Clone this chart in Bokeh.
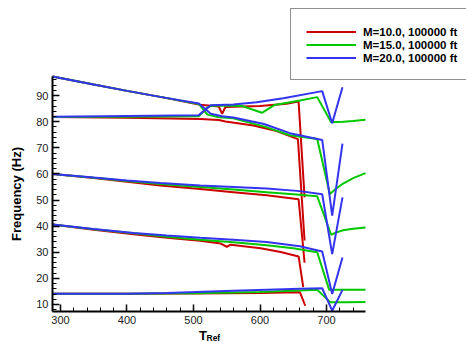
from bokeh.plotting import figure
from bokeh.models import Range1d, SingleIntervalTicker, Legend, LegendItem, Label
from bokeh.embed import file_html
from bokeh.resources import INLINE

# ---- data ----
series_labels = ["M=10.0, 100000 ft", "M=15.0, 100000 ft", "M=20.0, 100000 ft"]
series_colors = ["#cc0000", "#00c800", "#3434f0"]

# M=10
r1_t = [288, 350, 400, 450, 510, 538, 543, 548, 600, 640, 658, 667]
r1_f = [97.3, 94.2, 91.8, 89.5, 86.5, 85.8, 83.0, 85.6, 86.0, 86.9, 87.7, 51.0]
r2_t = [288, 400, 510, 538, 548, 590, 625, 657, 667]
r2_f = [81.8, 81.5, 81.0, 80.6, 80.1, 78.5, 76.4, 73.3, 34.5]
r3_t = [288, 350, 400, 450, 510, 560, 610, 658, 667]
r3_f = [60.0, 58.4, 57.0, 55.6, 54.2, 53.0, 51.8, 50.3, 26.0]
r4_t = [288, 350, 410, 460, 510, 541, 550, 556, 601, 631, 658, 665]
r4_f = [40.6, 38.6, 36.9, 35.5, 34.4, 33.3, 32.1, 32.9, 31.5, 30.1, 28.4, 16.6]
r5_t = [288, 400, 500, 600, 660, 668]
r5_f = [14.1, 14.1, 14.2, 14.4, 14.7, 9.5]

# M=15
g1_t = [288, 350, 400, 450, 508, 521, 538, 560, 608, 645, 686, 705, 715, 725, 740, 758.6]
g1_f = [97.3, 94.2, 91.8, 89.5, 86.8, 82.7, 81.7, 81.3, 78.0, 74.8, 73.4, 52.3, 54.5, 56.3, 58.4, 60.3]
g2_t = [288, 400, 508, 521, 528, 573, 603, 622, 660, 686, 707, 725, 740, 758.6]
g2_f = [81.8, 81.9, 82.1, 85.5, 86.2, 86.0, 83.4, 86.4, 88.1, 89.4, 79.8, 80.0, 80.3, 80.7]
g3_t = [288, 350, 400, 450, 510, 560, 610, 650, 686, 707, 715, 725, 740, 758.6]
g3_f = [60.0, 58.5, 57.3, 56.1, 55.0, 54.0, 53.0, 52.2, 51.4, 36.7, 37.6, 38.4, 39.0, 39.5]
g4_t = [288, 350, 410, 460, 510, 560, 610, 650, 686, 704, 730, 758.6]
g4_f = [40.6, 38.8, 37.3, 35.9, 34.8, 33.8, 32.7, 31.5, 30.0, 15.6, 15.6, 15.6]
g5_t = [288, 400, 500, 600, 686, 706, 730, 758.6]
g5_f = [14.1, 14.1, 14.3, 14.8, 15.6, 10.8, 10.8, 10.9]

# M=20
b1_t = [288, 350, 400, 450, 508, 526, 543, 560, 606, 645, 693.5, 708.5, 724]
b1_f = [97.3, 94.2, 91.8, 89.5, 87.0, 83.0, 82.1, 81.6, 79.1, 75.6, 73.0, 44.0, 71.6]
b2_t = [288, 400, 508, 526, 560, 595, 635, 693.5, 708.5, 724]
b2_f = [81.9, 82.2, 82.5, 86.3, 86.6, 87.4, 89.0, 91.7, 79.4, 93.2]
b3_t = [288, 350, 400, 450, 510, 560, 610, 660, 693.5, 708.5, 724]
b3_f = [60.0, 58.6, 57.5, 56.5, 55.6, 55.0, 54.4, 53.4, 52.2, 29.3, 51.0]
b4_t = [288, 350, 410, 460, 510, 560, 610, 660, 693.5, 708.5, 724]
b4_f = [40.6, 38.9, 37.4, 36.4, 35.5, 34.8, 33.9, 32.3, 30.3, 14.0, 28.0]
b5_t = [288, 400, 460, 560, 660, 693.5, 708.5, 724]
b5_f = [14.1, 14.1, 14.4, 15.2, 16.0, 16.2, 7.6, 15.6]

x_axis_span = (288, 758.6)
y_axis_span = (7.3, 97.3)
x_ticks_interval = 100
y_ticks_interval = 10

series = [
    [(r1_t, r1_f), (r2_t, r2_f), (r3_t, r3_f), (r4_t, r4_f), (r5_t, r5_f)],
    [(g1_t, g1_f), (g2_t, g2_f), (g3_t, g3_f), (g4_t, g4_f), (g5_t, g5_f)],
    [(b1_t, b1_f), (b2_t, b2_f), (b3_t, b3_f), (b4_t, b4_f), (b5_t, b5_f)],
]

# layout: whole canvas is the frame; axes are pinned at the data edges
W, H = 466, 342
L, R, T, B = 52, 365, 76, 311          # pixel box of the visible axes
kx = (x_axis_span[1] - x_axis_span[0]) / (R - L)
ky = (y_axis_span[1] - y_axis_span[0]) / (B - T)
xr = Range1d(x_axis_span[0] - L * kx, x_axis_span[1] + (W - R) * kx)
yr = Range1d(y_axis_span[0] - (H - B) * ky, y_axis_span[1] + T * ky)

p = figure(width=W, height=H, output_backend="svg", toolbar_location=None,
           x_range=xr, y_range=yr, min_border=0)
p.outline_line_color = None
p.grid.visible = False
p.background_fill_color = "white"
p.border_fill_color = "white"

items = []
for label, color, curves in zip(series_labels, series_colors, series):
    rends = []
    for t, f in curves:
        rends.append(p.line(t, f, line_color=color, line_width=2))
    items.append(LegendItem(label=label, renderers=[rends[0]]))

p.xaxis.fixed_location = y_axis_span[0]
p.yaxis.fixed_location = x_axis_span[0]
p.xaxis.bounds = x_axis_span
p.yaxis.bounds = y_axis_span

for ax in (p.xaxis[0], p.yaxis[0]):
    ax.axis_line_width = 2
    ax.axis_line_color = "black"
    ax.major_tick_in = 7
    ax.major_tick_out = 0
    ax.minor_tick_in = 4
    ax.minor_tick_out = 0
    ax.major_tick_line_width = 1.5
    ax.minor_tick_line_width = 1
    ax.major_tick_line_color = "black"
    ax.minor_tick_line_color = "black"
    ax.major_label_text_font = "Liberation Sans"
    ax.major_label_text_font_size = "11px"
    ax.major_label_text_color = "#222222"
    ax.major_label_standoff = 4

p.xaxis.ticker = SingleIntervalTicker(interval=x_ticks_interval, num_minor_ticks=5)
p.yaxis.ticker = SingleIntervalTicker(interval=y_ticks_interval, num_minor_ticks=5)

p.yaxis.axis_label = "Frequency (Hz)"
p.yaxis.axis_label_text_font = "Liberation Sans"
p.yaxis.axis_label_text_font_style = "bold"
p.yaxis.axis_label_text_font_size = "13px"
p.yaxis.axis_label_text_color = "black"
p.yaxis.axis_label_standoff = 9

p.add_layout(Label(x=198.5, y=H - 335, x_units="screen", y_units="screen", text="T",
                   text_font="Liberation Sans", text_font_style="bold",
                   text_font_size="13px", text_color="black", text_baseline="alphabetic"))
p.add_layout(Label(x=206, y=H - 337.3, x_units="screen", y_units="screen", text="Ref",
                   text_font="Liberation Sans", text_font_style="bold",
                   text_font_size="8.5px", text_color="black", text_baseline="alphabetic"))

legend = Legend(items=items, location=(290, H - 80), orientation="vertical",
                padding=15, spacing=0, margin=0,
                glyph_width=50, glyph_height=13, label_height=13, label_standoff=7,
                label_text_font="Liberation Sans", label_text_font_style="bold",
                label_text_font_size="11.5px", label_text_color="black",
                border_line_color="#222222", border_line_width=1.5,
                background_fill_color="white", background_fill_alpha=1.0,
                title=" ", title_text_font_size="1px", title_standoff=0)
p.add_layout(legend, "center")

open("out.html", "w").write(file_html(p, INLINE))
